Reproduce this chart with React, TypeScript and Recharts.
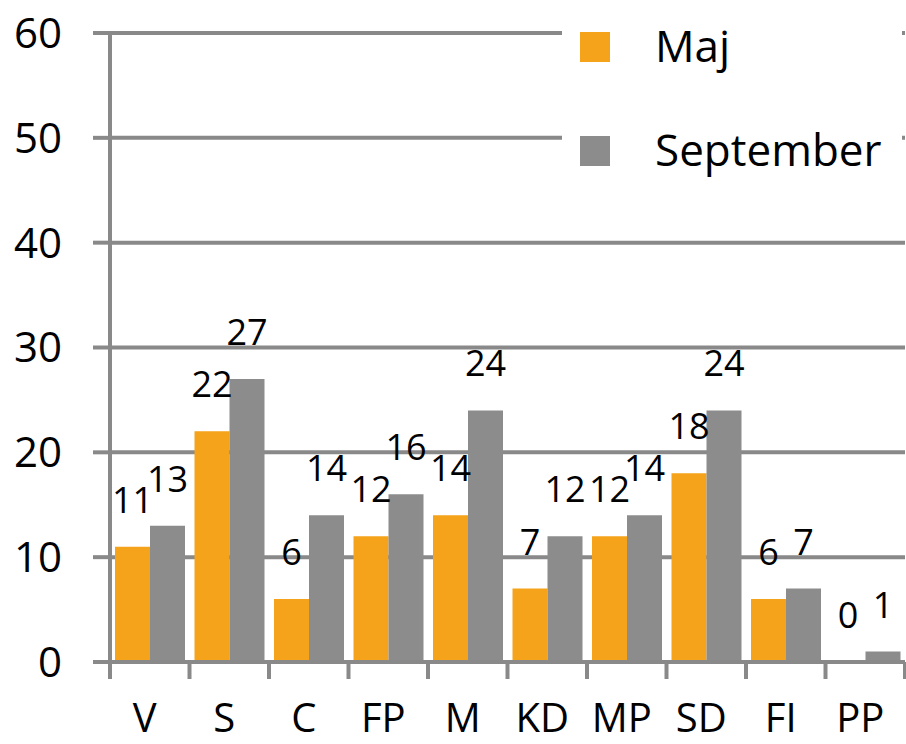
import { BarChart, Bar, XAxis, YAxis, CartesianGrid, Legend, LabelList } from "recharts";

const CATEGORIES = ["V", "S", "C", "FP", "M", "KD", "MP", "SD", "FI", "PP"];
const MAJ = [11, 22, 6, 12, 14, 7, 12, 18, 6, 0];
const SEPTEMBER = [13, 27, 14, 16, 24, 12, 14, 24, 7, 1];
const Y_TICKS = [0, 10, 20, 30, 40, 50, 60];

const FONT = "'Open Sans', sans-serif";
const AXIS_GREY = "#898989";
const ORANGE = "#F5A31A";
const GREY = "#8C8C8C";

const data = CATEGORIES.map((name, i) => ({ name, Maj: MAJ[i], September: SEPTEMBER[i] }));

function CategoryTick(props: any) {
  const { x, y, payload, index } = props;
  const half = payload.offset ?? 39.75;
  return (
    <g>
      <line x1={x - half} x2={x - half} y1={y} y2={y + 17} stroke={AXIS_GREY} strokeWidth={4} />
      {index === CATEGORIES.length - 1 && (
        <line x1={x + half} x2={x + half} y1={y} y2={y + 17} stroke={AXIS_GREY} strokeWidth={4} />
      )}
      <text x={x - 5} y={y + 70} textAnchor="middle" fontFamily={FONT} fontSize={40} fill="#000">
        {payload.value}
      </text>
    </g>
  );
}

function LegendBox(props: any) {
  const items = props.payload || [];
  return (
    <div style={{ position: "relative", width: 340, height: 200, background: "#fff" }}>
      {items.map((it: any, i: number) => (
        <div key={it.value}>
          <div style={{ position: "absolute", left: 18, top: 32 + i * 104, width: 30, height: 30, background: it.color }} />
          <span style={{ position: "absolute", left: 93, top: 15 + i * 104, fontFamily: FONT, fontSize: 44, lineHeight: "60px", color: "#000", whiteSpace: "nowrap" }}>
            {it.value}
          </span>
        </div>
      ))}
    </div>
  );
}

export default function App() {
  return (
    <div style={{ position: "absolute", left: 0, top: 0, width: 906, height: 744, background: "#fff" }}>
      <BarChart width={906} height={744} data={data} margin={{ top: 33, right: 1, left: 0, bottom: 0 }} barCategoryGap={5} barGap={0}>
        <CartesianGrid vertical={false} stroke={AXIS_GREY} strokeWidth={4} />
        <XAxis
          dataKey="name"
          height={82}
          tickSize={0}
          tickMargin={0}
          tickLine={false}
          axisLine={{ stroke: AXIS_GREY, strokeWidth: 4 }}
          tick={<CategoryTick />}
          interval={0}
        />
        <YAxis
          width={110}
          domain={[0, 60]}
          ticks={Y_TICKS}
          tickSize={17}
          tickMargin={31}
          tickLine={{ stroke: AXIS_GREY, strokeWidth: 4 }}
          axisLine={{ stroke: AXIS_GREY, strokeWidth: 4 }}
          tick={{ fontFamily: FONT, fontSize: 42, fill: "#000" }}
        />
        <Legend
          layout="vertical"
          align="center"
          verticalAlign="middle"
          content={<LegendBox />}
          wrapperStyle={{ left: 562, top: 0, width: 340, height: 200 }}
        />
        <Bar dataKey="Maj" fill={ORANGE} minPointSize={0.01} isAnimationActive={false}>
          <LabelList dataKey="Maj" position="top" offset={34} fontFamily={FONT} fontSize={36} fill="#000" />
        </Bar>
        <Bar dataKey="September" fill={GREY} isAnimationActive={false}>
          <LabelList dataKey="September" position="top" offset={34} fontFamily={FONT} fontSize={36} fill="#000" />
        </Bar>
      </BarChart>
    </div>
  );
}
